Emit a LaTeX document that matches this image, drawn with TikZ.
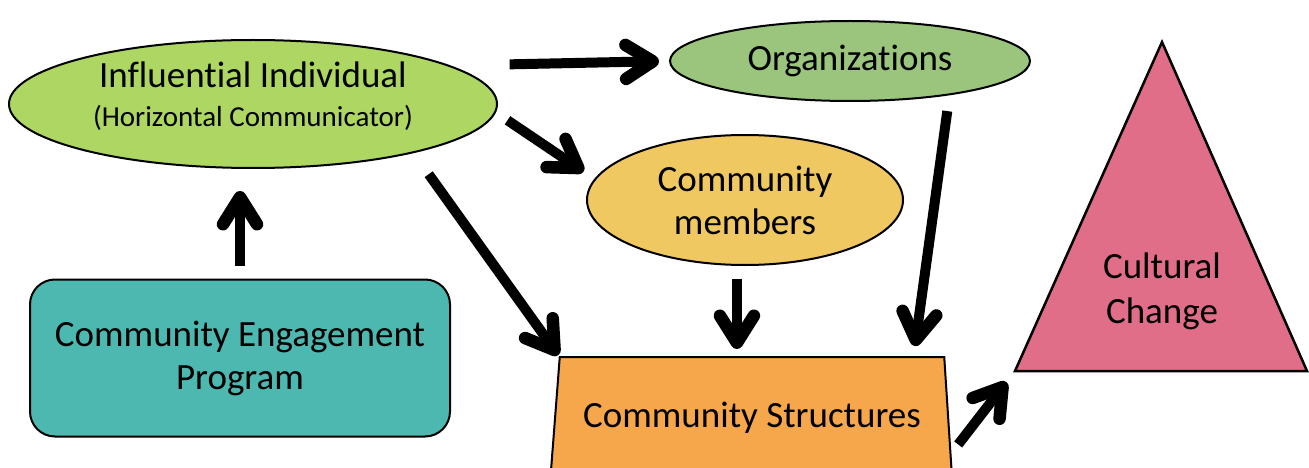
\documentclass[tikz,border=0pt]{standalone}
\usepackage{fontspec}
\setmainfont[Ligatures=NoCommon]{Carlito}
\usetikzlibrary{shapes.geometric,arrows.meta}
\definecolor{inflfill}{RGB}{173,214,98}
\definecolor{orgfill}{RGB}{155,197,125}
\definecolor{membfill}{RGB}{240,200,98}
\definecolor{cepfill}{RGB}{76,184,176}
\definecolor{structfill}{RGB}{246,166,75}
\definecolor{cultfill}{RGB}{224,110,136}
\tikzstyle{bubble} = [ellipse, draw=black, line width=2pt, align=center, font=\fontsize{37}{43}\selectfont]
\tikzstyle{box} = [rectangle, rounded corners=25pt, draw=black, line width=2pt, align=center, font=\fontsize{37}{43}\selectfont]
\tikzstyle{arrow} = [line width=10pt, -{Straight Barb[round,length=27pt,width=34pt,line width=0pt 1.25]}]

\begin{document}
\begin{tikzpicture}[x=1pt,y=-1pt]
                \useasboundingbox (0,0) rectangle (1309,468);
                \clip (0,0) rectangle (1309,468);
                \node (infl) [bubble, fill=inflfill, minimum width=488pt, minimum height=128pt, text depth=19pt] at (253,104) {Influential Individual\\[-4pt]{\fontsize{29}{34}\selectfont (Horizontal Communicator)}};
                \node (org) [bubble, fill=orgfill, minimum width=360pt, minimum height=80pt] at (850,61) {Organizations};
                \node (memb) [bubble, fill=membfill, minimum width=316pt, minimum height=130pt] at (745,200) {Community\\members};
                \node (cep) [box, fill=cepfill, minimum width=420pt, minimum height=157pt] at (240,358) {Community Engagement\\Program};
                \node (struct) [trapezium, trapezium left angle=77.5, trapezium right angle=79.5, trapezium stretches=true, draw=black, line width=2pt, fill=structfill, minimum width=402pt, minimum height=122pt, font=\fontsize{37}{43}\selectfont] at (752,418) {Community Structures};
                % triangle
                \draw [fill=cultfill, line width=2.5pt] (1015,371) coordinate (cultl) -- (1162,42) coordinate (cultt) -- (1307,371) coordinate (cultr) -- cycle;
                \node (cult) [align=center, font=\fontsize{37}{45}\selectfont] at (1162,291) {Cultural\\Change};
                \draw [arrow, shorten <=13pt, shorten >=22pt] (cep.north) -- (cep.north |- infl.south);
                \draw [arrow, shorten <=59pt, shorten >=10pt] (infl.11) -- (org.west);
                \draw [arrow, shorten <=14pt, shorten >=13pt] (infl.-2.5) -- (memb.172);
                \draw [arrow, shorten <=26pt, shorten >=1pt] (infl.-17) -- (struct.top left corner);
                \draw [arrow, shorten <=13pt, shorten >=7pt] (memb.263) -- (memb.263 |- struct.north);
                \draw [arrow, shorten <=16pt, shorten >=10pt] (org.-19) -- (struct.21);
                \draw [arrow, shorten <=11pt, shorten >=14pt] (struct.-10) -- (cultl);
            \end{tikzpicture}
\end{document}
